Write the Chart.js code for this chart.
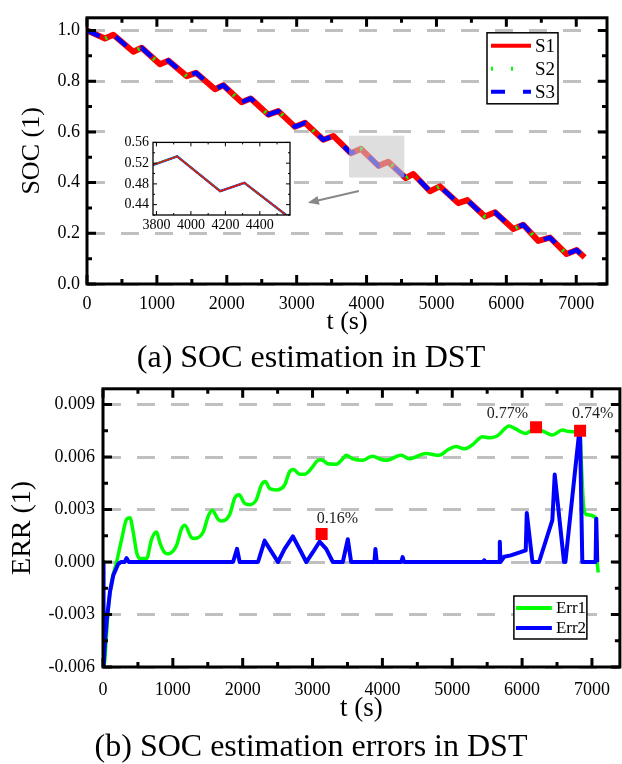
<!DOCTYPE html>
<html>
<head>
<meta charset="utf-8">
<script src="https://cdn.jsdelivr.net/npm/chart.js@4.4.1/dist/chart.umd.min.js"></script>
<style>
  body { margin: 0; background: #fff; }
  #wrap { position: relative; width: 622px; height: 764px; }
  canvas { position: absolute; }
  .cap { position: absolute; left: 0; width: 622px; text-align: center;
         font-family: "Liberation Serif", "Times New Roman", serif; font-size: 32px; line-height: 36px; color: #000; }
</style>
</head>
<body>
<div id="wrap">
  <canvas id="socChart" width="622" height="340" style="left:0;top:0"></canvas>
  <canvas id="insetChart" width="182" height="100" style="left:112px;top:130px"></canvas>
  <div class="cap" style="top:338px">(a) SOC estimation in DST</div>
  <canvas id="errChart" width="622" height="360" style="left:0;top:370px"></canvas>
  <div class="cap" style="top:727px">(b) SOC estimation errors in DST</div>
</div>
<script>
// ---- data ----
// SOC curve vertices, t in seconds
var socTime = [0, 257, 377, 663, 782, 1044, 1164, 1426, 1559, 1831, 1950, 2213, 2342, 2594, 2737, 2976, 3119,
  3381, 3524, 3775, 3920, 4170, 4310, 4560, 4669, 4907, 5050, 5312, 5441, 5694, 5837, 6099, 6242, 6456, 6624,
  6862, 7005, 7120];
var socS1 = [1.0, 0.968, 0.983, 0.916, 0.932, 0.867, 0.881, 0.820, 0.833, 0.768, 0.784, 0.717, 0.732, 0.668,
  0.682, 0.620, 0.636, 0.569, 0.584, 0.516, 0.533, 0.466, 0.482, 0.418, 0.434, 0.366, 0.385, 0.319, 0.331,
  0.266, 0.283, 0.217, 0.234, 0.170, 0.183, 0.118, 0.134, 0.105];
var socS2 = socS1.slice();
var socS3 = socS1.slice();

var err1Time = [0, 12, 50, 76, 124, 195, 267, 338, 386, 433, 481, 529, 624, 695, 767, 814, 886, 933, 1052, 1124,
  1171, 1267, 1314, 1433, 1505, 1562, 1648, 1695, 1814, 1886, 1948, 2029, 2100, 2195, 2267, 2324, 2386, 2481,
  2600, 2671, 2729, 2814, 2886, 2981, 3076, 3124, 3219, 3338, 3433, 3481, 3576, 3719, 3814, 3862, 3957, 4052,
  4267, 4386, 4624, 4814, 4933, 5052, 5171, 5290, 5433, 5529, 5648, 5814, 5886, 6052, 6124, 6200, 6290, 6433,
  6576, 6671, 6790, 6830, 6845, 6886, 6933, 7052, 7076, 7090];
var err1 = [0, -0.006, -0.0042, -0.0026, -0.0011, 0, 0.0013, 0.00244, 0.00253, 0.0017, 0.00056, 0.0002, 0.0002,
  0.0013, 0.00172, 0.0011, 0.00053, 0.00047, 0.00094, 0.0019, 0.0021, 0.0014, 0.00135, 0.0017, 0.0026, 0.00296,
  0.00244, 0.00234, 0.00272, 0.00366, 0.00384, 0.00334, 0.00328, 0.00356, 0.0044, 0.0046, 0.0042, 0.00412,
  0.0044, 0.00516, 0.00529, 0.00502, 0.00502, 0.00534, 0.00581, 0.00585, 0.00562, 0.00559, 0.0059, 0.0061,
  0.0059, 0.00581, 0.006, 0.00604, 0.0059, 0.00581, 0.0061, 0.0059, 0.0062, 0.0061, 0.0064, 0.0066, 0.00647,
  0.0067, 0.00716, 0.0071, 0.00722, 0.00778, 0.00765, 0.00735, 0.0075, 0.0076, 0.0075, 0.00726, 0.00754,
  0.00746, 0.00744, 0.0074, 0.006, 0.003, 0.0027, 0.00253, 0, -0.0006];

var err2Time = [0, 8, 30, 52, 100, 148, 219, 260, 310, 338, 370, 1862, 1919, 1957, 2219, 2314, 2386, 2505, 2600,
  2719, 2838, 2910, 3005, 3100, 3195, 3290, 3433, 3505, 3552, 3886, 3900, 3919, 4270, 4290, 4310, 5440, 5457,
  5475, 5675, 5681, 5690, 5743, 5838, 6052, 6067, 6148, 6243, 6433, 6467, 6600, 6620, 6814, 6830, 6862, 7052,
  7062, 7076];
var err2 = [0, -0.006, -0.0045, -0.0034, -0.0017, -0.00075, -0.0001, 0, 0, 0.00022, 0, 0, 0.00075, 0, 0, 0.00122,
  0.00075, 0, 0.00075, 0.00146, 0.00056, 0, 0.00056, 0.00116, 0.00075, 0, 0, 0.0013, 0, 0, 0.00075, 0, 0,
  0.00028, 0, 0, 0.0001, 0, 0, 0.00116, 0, 0.0003, 0.00038, 0.00066, 0.0028, 0, 0, 0.0024, 0.005, 0, 0, 0.0073,
  0.0072, 0, 0, 0.00248, 0];

var peakTime = [3130, 6200, 6830];
var peakErr = [0.0016, 0.0077, 0.0075];
var peakLabels = ['0.16%', '0.77%', '0.74%'];

// tick labels
var tTicks = [0, 1000, 2000, 3000, 4000, 5000, 6000, 7000];
var socTicks = [0.0, 0.2, 0.4, 0.6, 0.8, 1.0];
var errTicks = [-0.006, -0.003, 0.000, 0.003, 0.006, 0.009];
var insetTTicks = [3800, 4000, 4200, 4400];
var insetSocTicks = [0.44, 0.48, 0.52, 0.56];

function pts(xs, ys) { return xs.map(function (x, i) { return { x: x, y: ys[i] }; }); }

Chart.defaults.font.family = '"Liberation Serif", "Times New Roman", serif';
Chart.defaults.color = '#000';

// major + minor (midway) ticks drawn inward on all four sides, plus the black frame
function withMinor(arr) {
  var out = [];
  var step = arr[1] - arr[0];
  arr.forEach(function (v, i) {
    out.push([v, true]);
    out.push([v + step / 2, false]);
  });
  out.unshift([arr[0] - step / 2, false]);
  return out;
}
function framePlugin(o) {
  return {
    id: 'frame',
    afterDraw: function (chart) {
      var ctx = chart.ctx, a = chart.chartArea, xs = chart.scales.x, ys = chart.scales.y;
      ctx.save();
      ctx.strokeStyle = '#000';
      ctx.lineWidth = o.tickWidth;
      ctx.beginPath();
      withMinor(o.xTicks).forEach(function (t) {
        if (t[0] < xs.min || t[0] > xs.max) return;
        var px = xs.getPixelForValue(t[0]), len = t[1] ? o.major : o.minor;
        ctx.moveTo(px, a.bottom); ctx.lineTo(px, a.bottom - len);
        ctx.moveTo(px, a.top); ctx.lineTo(px, a.top + len);
      });
      withMinor(o.yTicks).forEach(function (t) {
        if (t[0] < ys.min - 1e-9 || t[0] > ys.max) return;
        var py = ys.getPixelForValue(t[0]), len = t[1] ? o.major : o.minor;
        ctx.moveTo(a.left, py); ctx.lineTo(a.left + len, py);
        ctx.moveTo(a.right, py); ctx.lineTo(a.right - len, py);
      });
      ctx.stroke();
      ctx.lineWidth = o.frameWidth;
      ctx.strokeRect(a.left, a.top, a.right - a.left, a.bottom - a.top);
      ctx.restore();
    }
  };
}

// legend box drawn inside the plot area
function boxLegend(o) {
  return {
    id: 'boxLegend',
    afterDraw: function (chart) {
      var ctx = chart.ctx, a = chart.chartArea;
      var x0 = a.right - o.right, y0 = a.top + o.top;
      if (o.fromBottom) y0 = a.bottom - o.fromBottom;
      ctx.save();
      ctx.fillStyle = '#fff';
      ctx.fillRect(x0, y0, o.w, o.h);
      ctx.strokeStyle = '#000';
      ctx.lineWidth = 1.5;
      ctx.strokeRect(x0, y0, o.w, o.h);
      o.items.forEach(function (idx, i) {
        var ds = chart.data.datasets[idx];
        var y = y0 + o.first + i * o.row;
        ctx.save();
        ctx.strokeStyle = ds.borderColor;
        ctx.lineWidth = o.lineWidth;
        ctx.setLineDash(ds.borderDash || []);
        ctx.beginPath();
        ctx.moveTo(x0 + o.lineFrom, y);
        ctx.lineTo(x0 + o.lineTo, y);
        ctx.stroke();
        ctx.restore();
        ctx.fillStyle = '#000';
        ctx.font = o.fontSize + 'px "Liberation Serif", serif';
        ctx.textBaseline = 'middle';
        ctx.fillText(ds.label, x0 + o.lineTo + 4, y + 1);
      });
      ctx.restore();
    }
  };
}

// highlighted zoom window and arrow pointing to the inset
var zoomWindow = { t0: 3750, t1: 4540, s0: 0.42, s1: 0.585 };
var zoomArrow = { from: [3890, 0.367], to: [3160, 0.32] };
var zoomPlugin = {
  id: 'zoomBox',
  afterDatasetsDraw: function (chart) {
    var ctx = chart.ctx, xs = chart.scales.x, ys = chart.scales.y;
    ctx.save();
    var l = xs.getPixelForValue(zoomWindow.t0), r = xs.getPixelForValue(zoomWindow.t1);
    var t = ys.getPixelForValue(zoomWindow.s1), b = ys.getPixelForValue(zoomWindow.s0);
    ctx.fillStyle = 'rgba(200,200,200,0.6)';
    ctx.fillRect(l, t, r - l, b - t);
    var x1 = xs.getPixelForValue(zoomArrow.from[0]), y1 = ys.getPixelForValue(zoomArrow.from[1]);
    var x2 = xs.getPixelForValue(zoomArrow.to[0]), y2 = ys.getPixelForValue(zoomArrow.to[1]);
    var ang = Math.atan2(y2 - y1, x2 - x1);
    ctx.strokeStyle = '#888';
    ctx.fillStyle = '#888';
    ctx.lineWidth = 2;
    ctx.beginPath();
    ctx.moveTo(x1, y1);
    ctx.lineTo(x2 - 8 * Math.cos(ang), y2 - 8 * Math.sin(ang));
    ctx.stroke();
    ctx.beginPath();
    ctx.moveTo(x2, y2);
    ctx.lineTo(x2 - 11 * Math.cos(ang) + 4.5 * Math.sin(ang), y2 - 11 * Math.sin(ang) - 4.5 * Math.cos(ang));
    ctx.lineTo(x2 - 11 * Math.cos(ang) - 4.5 * Math.sin(ang), y2 - 11 * Math.sin(ang) + 4.5 * Math.cos(ang));
    ctx.closePath();
    ctx.fill();
    ctx.restore();
  }
};

// ---- (a) SOC estimation ----
new Chart(document.getElementById('socChart').getContext('2d'), {
  type: 'line',
  data: {
    datasets: [
      { label: 'S1', data: pts(socTime, socS1), borderColor: '#ff0000', borderWidth: 6, order: 3 },
      { label: 'S2', data: pts(socTime, socS2), borderColor: '#00ff00', borderWidth: 4, borderDash: [2, 18], order: 2 },
      { label: 'S3', data: pts(socTime, socS3), borderColor: '#0000ff', borderWidth: 4.5, borderDash: [14, 18], order: 1 }
    ]
  },
  options: {
    responsive: false,
    animation: false,
    events: [],
    elements: { point: { radius: 0 }, line: { tension: 0, borderJoinStyle: 'round' } },
    layout: { autoPadding: false, padding: { left: 0, right: 15, top: 12, bottom: 0 } },
    scales: {
      x: {
        type: 'linear', min: 0, max: 7440,
        grid: { display: false, drawTicks: false },
        border: { display: false },
        afterBuildTicks: function (s) { s.ticks = tTicks.map(function (v) { return { value: v }; }); },
        ticks: { font: { size: 18 }, padding: 9, maxRotation: 0, autoSkip: false, callback: function (v) { return String(v); } },
        title: { display: true, text: 't (s)', font: { size: 26 }, padding: { top: 0, bottom: 2 } },
        afterFit: function (s) { s.height = 56; }
      },
      y: {
        min: 0, max: 1.05,
        grid: { color: '#c0c0c0', lineWidth: 3, drawTicks: false },
        border: { display: false, dash: [18, 16] },
        afterBuildTicks: function (s) { s.ticks = socTicks.map(function (v) { return { value: v }; }); },
        ticks: { font: { size: 18 }, padding: 7, callback: function (v) { return v.toFixed(1); } },
        title: { display: true, text: 'SOC (1)', font: { size: 26 }, padding: { top: 17, bottom: 0 } },
        afterFit: function (s) { s.width = 87; }
      }
    },
    plugins: { legend: { display: false }, tooltip: { enabled: false } }
  },
  plugins: [zoomPlugin,
    framePlugin({ xTicks: tTicks, yTicks: socTicks, tickWidth: 3, frameWidth: 3, major: 9, minor: 5 }),
    boxLegend({ items: [0, 1, 2], right: 120, top: 15, w: 71, h: 71, first: 13, row: 23,
      lineFrom: 4, lineTo: 44, lineWidth: 4, fontSize: 19 })]
});

// ---- inset ----
new Chart(document.getElementById('insetChart').getContext('2d'), {
  type: 'line',
  data: {
    datasets: [
      { label: 'S1', data: pts(socTime, socS1), borderColor: '#ff0000', borderWidth: 1.3, order: 1 },
      { label: 'S2', data: pts(socTime, socS2), borderColor: '#00ff00', borderWidth: 1.5, order: 2 },
      { label: 'S3', data: pts(socTime, socS3), borderColor: '#0000ff', borderWidth: 2.4, order: 3 }
    ]
  },
  options: {
    responsive: false,
    animation: false,
    events: [],
    elements: { point: { radius: 0 }, line: { tension: 0 } },
    layout: { autoPadding: false, padding: { left: 0, right: 4, top: 5, bottom: 0 } },
    scales: {
      x: {
        type: 'linear', min: 3780, max: 4575,
        grid: { display: false, drawTicks: false },
        border: { display: false },
        afterBuildTicks: function (s) { s.ticks = insetTTicks.map(function (v) { return { value: v }; }); },
        ticks: { font: { size: 14 }, padding: 2, maxRotation: 0, autoSkip: false, callback: function (v) { return String(v); } },
        afterFit: function (s) { s.height = 15; }
      },
      y: {
        min: 0.42, max: 0.56,
        grid: { display: false, drawTicks: false },
        border: { display: false },
        afterBuildTicks: function (s) { s.ticks = insetSocTicks.map(function (v) { return { value: v }; }); },
        ticks: { font: { size: 14 }, padding: 4, callback: function (v) { return v.toFixed(2); } },
        afterFit: function (s) { s.width = 41; }
      }
    },
    plugins: { legend: { display: false }, tooltip: { enabled: false } }
  },
  plugins: [{
    id: 'whiteBg',
    beforeDraw: function (chart) {
      chart.ctx.save();
      chart.ctx.fillStyle = '#fff';
      chart.ctx.fillRect(0, 0, chart.width, chart.height);
      chart.ctx.restore();
    }
  }, framePlugin({ xTicks: insetTTicks, yTicks: insetSocTicks, tickWidth: 1, frameWidth: 1.3, major: 4, minor: 2 })]
});

// ---- (b) errors ----
var peakLabelPlugin = {
  id: 'peakLabels',
  afterDatasetsDraw: function (chart) {
    var ctx = chart.ctx, xs = chart.scales.x, ys = chart.scales.y;
    var place = [[-5, -15, 'left'], [-8, -13, 'right'], [-8, -17, 'left']];
    ctx.save();
    ctx.fillStyle = '#222';
    ctx.font = '16px "Liberation Serif", serif';
    ctx.textBaseline = 'middle';
    peakLabels.forEach(function (txt, i) {
      var px = xs.getPixelForValue(peakTime[i]), py = ys.getPixelForValue(peakErr[i]);
      ctx.textAlign = place[i][2];
      ctx.fillText(txt, px + place[i][0], py + place[i][1]);
    });
    ctx.restore();
  }
};

new Chart(document.getElementById('errChart').getContext('2d'), {
  type: 'line',
  data: {
    datasets: [
      { label: 'Err1', data: pts(err1Time, err1), borderColor: '#00ff00', borderWidth: 3.5,
        cubicInterpolationMode: 'monotone', order: 2 },
      { label: 'Err2', data: pts(err2Time, err2), borderColor: '#0000ff', borderWidth: 4, tension: 0, order: 1 },
      { label: 'peaks', data: pts(peakTime, peakErr), showLine: false, pointStyle: 'rect', pointRadius: 8.5,
        pointBackgroundColor: '#ff0000', pointBorderWidth: 0, borderColor: '#ff0000', order: 0 }
    ]
  },
  options: {
    responsive: false,
    animation: false,
    events: [],
    elements: { point: { radius: 0 }, line: { borderJoinStyle: 'round' } },
    layout: { autoPadding: false, padding: { left: 0, right: 1, top: 14, bottom: 0 } },
    scales: {
      x: {
        type: 'linear', min: 0, max: 7400,
        grid: { display: false, drawTicks: false },
        border: { display: false },
        afterBuildTicks: function (s) { s.ticks = tTicks.map(function (v) { return { value: v }; }); },
        ticks: { font: { size: 18 }, padding: 12, maxRotation: 0, autoSkip: false, callback: function (v) { return String(v); } },
        title: { display: true, text: 't (s)', font: { size: 27 }, padding: { top: 0, bottom: 5 } },
        afterFit: function (s) { s.height = 63; }
      },
      y: {
        min: -0.006, max: 0.0099,
        grid: { color: '#c0c0c0', lineWidth: 3, drawTicks: false },
        border: { display: false, dash: [18, 16] },
        afterBuildTicks: function (s) { s.ticks = errTicks.map(function (v) { return { value: v }; }); },
        ticks: { font: { size: 18 }, padding: 8, callback: function (v) { return v.toFixed(3); } },
        title: { display: true, text: 'ERR (1)', font: { size: 28 }, padding: { top: 6, bottom: 0 } },
        afterFit: function (s) { s.width = 103; }
      }
    },
    plugins: { legend: { display: false }, tooltip: { enabled: false } }
  },
  plugins: [peakLabelPlugin,
    framePlugin({ xTicks: tTicks, yTicks: errTicks, tickWidth: 3, frameWidth: 3, major: 9, minor: 5 }),
    boxLegend({ items: [0, 1], right: 106, fromBottom: 71, w: 73, h: 43, first: 12, row: 20,
      lineFrom: 2, lineTo: 38, lineWidth: 4, fontSize: 17 })]
});
</script>
</body>
</html>
